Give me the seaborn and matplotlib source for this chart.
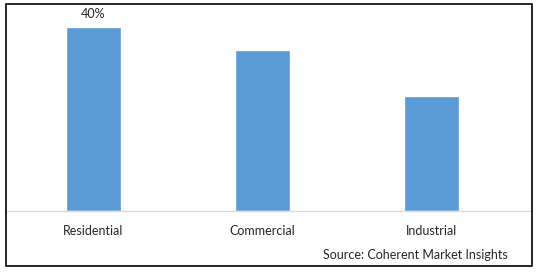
import matplotlib
matplotlib.use("Agg")
import matplotlib.pyplot as plt
import seaborn as sns
from matplotlib.patches import Rectangle
from matplotlib.lines import Line2D

categories = ["Residential", "Commercial", "Industrial"]
values = [40, 35, 25]
bar_labels = ["40%", "", ""]
source = "Source: Coherent Market Insights"

sns.set_theme(style="white")
plt.rcParams["font.family"] = ["Lato", "DejaVu Sans"]

W, H = 539, 272
fig = plt.figure(figsize=(W / 100, H / 100), dpi=100)
fig.patch.set_facecolor("white")

ax = fig.add_axes([6 / W, (H - 211) / H, (532 - 6) / W, (211 - 12) / H])
sns.barplot(x=categories, y=values, color="#5B9BD5", saturation=1,
            width=0.325, ax=ax)
ax.set_xlim(-0.518, 2.595)
ax.set_ylim(0, 40 * 199 / 184)
for s in ["top", "left", "right"]:
    ax.spines[s].set_visible(False)
ax.spines["bottom"].set_color("#D9D9D9")
ax.spines["bottom"].set_linewidth(1)
ax.set_yticks([])
ax.set_xlabel("")
ax.set_ylabel("")
ax.tick_params(axis="x", length=0, pad=10, labelsize=9, colors="#262626")
ax.bar_label(ax.containers[0], labels=bar_labels, padding=5,
             fontsize=9, color="#262626")

fig.text(508 / W, (H - 255) / H, source, ha="right", va="center",
         fontsize=9, color="#262626")

fig.add_artist(Rectangle((6 / W, 6 / H), (532 - 6) / W, (266 - 4) / H,
                         transform=fig.transFigure, fill=False,
                         edgecolor="black", linewidth=1.2))

fig.savefig("out.png", dpi=100)
